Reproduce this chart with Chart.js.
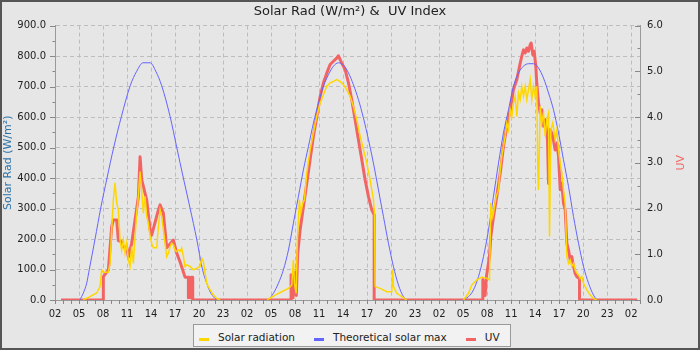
<!DOCTYPE html>
<html>
<head>
<meta charset="utf-8">
<script src="https://cdn.jsdelivr.net/npm/chart.js@4.4.0/dist/chart.umd.min.js"></script>
<style>
  body { margin:0; background:#e6e6e6; }
  #wrap { position:relative; width:700px; height:350px; background:#e6e6e6; }
  #frame { position:absolute; left:0; top:0; width:700px; height:350px; box-sizing:border-box; border:2px solid #555; pointer-events:none; }
  #legend { position:absolute; left:193px; top:324px; height:23px; box-sizing:border-box; border:1px solid #9a9a9a; background:#f2f2f2;
            display:flex; align-items:center; padding:3px 10px 0 5px; font:10.5px "DejaVu Sans"; color:#222; white-space:nowrap; }
  .item { display:flex; align-items:center; margin-right:19px; }
  .item:last-child { margin-right:0; }
  .mark { width:10px; height:3px; margin-right:9px; position:relative; top:2px; }
</style>
</head>
<body>
<div id="wrap">
  <canvas id="solarChart" width="700" height="350"></canvas>
  <div id="legend"></div>
  <div id="frame"></div>
</div>
<script>
// hours counted from 00:00 of the first day
const xTickLabels = ['02','05','08','11','14','17','20','23','02','05','08','11','14','17','20','23','02','05','08','11','14','17','20','23','02'];
const yTickLabels = ['0.0','100.0','200.0','300.0','400.0','500.0','600.0','700.0','800.0','900.0'];
const uvTickLabels = ['0.0','1.0','2.0','3.0','4.0','5.0','6.0'];

const solarHours = [
  5.5,6.38,7.21,7.63,7.83,8.04,8.67,8.88,9.08,9.29,9.5,9.71,9.92,10.13,10.33,10.54,10.75,10.96,11.17,11.38,
  11.58,11.79,12.0,12.21,12.42,12.63,12.83,13.04,13.25,13.46,13.67,13.88,14.08,14.29,14.71,14.92,15.13,15.33,15.54,15.75,
  15.96,16.17,16.38,16.58,16.79,17.0,17.2,17.42,17.63,17.83,18.04,18.25,18.46,18.88,19.29,19.71,20.13,20.33,20.54,20.75,
  20.96,21.38,21.79,22.21,22.63,
  25,
  28.5,29.5,30.33,31.17,31.58,31.79,31.92,32.13,32.29,32.54,32.71,32.96,33.17,33.46,33.88,34.29,34.71,35.13,35.54,35.96,
  36.38,36.79,37.2,37.63,38.04,38.46,38.88,39.29,39.71,40.13,40.54,40.96,41.38,41.79,41.92,42.0,42.63,43.46,44.08,44.2,
  44.29,44.71,45.33,45.96,
  49,
  53.04,53.67,54.08,54.71,55.33,55.96,56.29,56.46,56.71,56.92,57.13,57.42,57.63,57.83,58.04,58.25,58.46,58.67,58.88,59.08,
  59.29,59.5,59.71,59.92,60.13,60.33,60.54,60.75,60.96,61.17,61.38,61.58,61.79,62.0,62.2,62.33,62.42,62.63,62.83,63.04,
  63.25,63.46,63.67,63.79,63.96,64.2,64.5,64.71,64.92,65.13,65.33,65.54,65.75,65.96,66.17,66.38,66.58,66.79,67.0,67.2,
  67.42,67.63,67.83,68.04,68.46,68.88,69.29,69.7
];
const solarWm2 = [
  0,11,23,44,99,90,92,120,230,329,384,318,296,197,164,197,154,187,131,110,
  175,120,208,285,340,421,361,285,340,274,252,208,186,171,171,241,296,274,230,187,
  142,153,175,187,181,164,159,164,159,170,142,110,115,110,99,104,110,137,126,88,
  55,33,16,5,0,
  null,
  0,16,27,38,49,131,55,22,197,329,285,318,329,416,493,548,602,646,673,701,
  712,717,723,717,706,690,668,635,591,537,493,449,394,329,285,44,38,27,27,99,
  44,22,11,0,
  null,
  0,22,49,66,75,71,66,318,274,307,340,361,427,471,504,537,580,558,624,602,
  646,668,602,679,657,701,668,701,657,690,723,657,701,668,701,427,361,635,580,613,
  537,591,613,208,558,580,526,558,493,449,416,361,318,142,120,131,110,120,99,88,
  82,71,77,55,33,16,5,0
];

const maxHours = [
  5.1,5.54,5.96,6.29,7.0,7.71,8.5,9.35,10.3,11.4,12.2,13.0,13.9,14.6,15.33,16.38,17.2,18.04,18.88,19.71,20.42,20.96,21.38,21.79,22.2,
  25,
  28.67,29.29,29.92,30.54,31.17,31.79,32.42,33.04,33.67,34.29,34.92,35.54,36.17,36.79,37.42,38.04,38.67,39.29,39.92,40.54,
  41.17,41.79,42.42,43.04,43.67,44.29,44.92,45.54,45.96,
  49,
  52.9,53.67,54.29,54.92,55.54,56.17,56.79,57.42,58.04,58.67,59.29,59.92,60.54,61.17,61.79,62.42,63.04,63.67,64.29,64.92,
  65.54,66.17,66.79,67.42,68.04,68.67,69.29,69.7
];
const maxWm2 = [
  0,23,55,101,199,301,400,502,602,703,750,778,778,750,703,602,502,400,301,199,101,55,27,11,0,
  null,
  0,22,55,99,164,252,340,427,504,580,646,701,739,767,778,770,745,706,657,597,
  526,449,361,274,186,110,49,11,0,
  null,
  0,11,33,77,142,230,340,449,548,624,701,745,767,775,775,761,728,679,624,548,
  460,372,274,186,110,55,16,0
];

const uvHours = [
  2.75,8.04,8.04,8.67,9.08,9.29,9.71,9.92,10.33,10.54,10.96,11.17,11.58,12.21,12.42,12.63,12.83,13.46,13.88,14.08,14.92,
  15.13,15.54,15.75,15.96,16.79,17.2,17.63,18.25,18.67,18.67,18.8,18.94,19.08,19.21,19.21,
  31.5,31.5,31.75,31.95,32.15,32.33,32.63,33.04,33.46,33.88,34.29,34.71,35.13,35.54,35.96,36.38,36.79,37.2,37.42,37.83,38.25,
  38.67,39.08,39.5,39.92,40.33,40.75,41.17,41.58,41.88,41.88,
  55.46,55.46,55.75,55.9,56.04,56.29,56.46,56.79,57.2,57.63,58.04,58.46,58.88,59.29,59.71,60.13,60.33,60.54,60.75,60.96,61.17,
  61.38,61.5,61.71,61.88,62.08,62.2,62.42,62.63,62.83,63.04,63.25,63.54,63.67,63.88,64.08,64.29,64.5,64.71,64.92,65.13,
  65.33,65.54,65.75,65.96,66.17,66.38,66.58,66.79,67.0,67.2,67.54,67.54,74.75
];
const uvIndex = [
  0,0,0.51,0.66,1.6,1.75,1.75,1.3,1.27,1.16,1.16,0.94,1.24,2.0,2.26,3.13,2.63,2.19,1.53,1.42,1.97,
  2.08,1.9,1.53,1.14,1.31,1.03,0.83,0.5,0.5,0.05,0.5,0.05,0.5,0.5,0,
  0,0.55,0.05,0.6,0.1,1.02,1.53,2.04,2.55,3.07,3.58,4.0,4.45,4.75,4.96,5.15,5.22,5.29,5.34,5.18,5.04,
  4.75,4.38,3.94,3.5,3.07,2.63,2.26,1.97,1.86,0,
  0,0.45,0.1,0.5,0.66,0.95,1.39,1.82,2.26,2.77,3.36,3.8,4.16,4.6,4.82,5.18,5.33,5.47,5.4,5.51,5.44,
  5.58,5.62,5.36,5.44,5.11,4.74,4.31,4.09,4.16,3.8,3.94,3.5,2.55,3.72,3.65,3.5,3.28,3.43,3.14,2.41,
  2.55,2.12,1.97,1.24,1.09,0.88,0.95,0.73,0.58,0.51,0.47,0,0
];

function pts(hours, vals){ return hours.map((h,i)=>({x:h, y:vals[i]})); }

Chart.defaults.font.family = '"DejaVu Sans"';
Chart.defaults.color = '#222';

// small tick marks: long at labelled values, short between; right axis ticks point inwards
const tickMarks = {
  id:'tickMarks',
  afterDraw(chart){
    const ctx = chart.ctx;
    const {x, y, y2} = chart.scales;
    ctx.save();
    ctx.strokeStyle = '#888';
    ctx.lineWidth = 1;
    ctx.beginPath();
    x.ticks.forEach(t=>{
      const px = Math.round(x.getPixelForValue(t.value)) + 0.5;
      ctx.moveTo(px, x.top); ctx.lineTo(px, x.top + 4);
    });
    y.ticks.forEach(t=>{
      const py = Math.round(y.getPixelForValue(t.value)) + 0.5;
      const len = t.label ? 5 : 2.5;
      ctx.moveTo(y.right - len, py); ctx.lineTo(y.right, py);
    });
    y2.ticks.forEach(t=>{
      const py = Math.round(y2.getPixelForValue(t.value)) + 0.5;
      const len = t.label ? 5 : 2.5;
      ctx.moveTo(y2.left - len, py); ctx.lineTo(y2.left, py);
    });
    ctx.stroke();

    // right axis title, reading bottom to top like the left one
    ctx.translate(y2.left + 41, (chart.chartArea.top + chart.chartArea.bottom) / 2);
    ctx.rotate(-Math.PI / 2);
    ctx.font = '11px "DejaVu Sans"';
    ctx.fillStyle = '#f26464';
    ctx.textAlign = 'center';
    ctx.textBaseline = 'middle';
    ctx.fillText('UV', 0, 0);
    ctx.restore();
  }
};

const ctx = document.getElementById('solarChart').getContext('2d');
const chart = new Chart(ctx,{
  type:'line',
  data:{
    datasets:[
      {label:'Solar radiation', data:pts(solarHours, solarWm2), yAxisID:'y',
       borderColor:'#ffd700', backgroundColor:'#ffd700', borderWidth:1.5, pointRadius:0, spanGaps:false},
      {label:'Theoretical solar max', data:pts(maxHours, maxWm2), yAxisID:'y',
       borderColor:'#6464ff', backgroundColor:'#6464ff', borderWidth:1, pointRadius:0, spanGaps:false,
       cubicInterpolationMode:'monotone'},
      {label:'UV', data:pts(uvHours, uvIndex), yAxisID:'y2',
       borderColor:'#f26464', backgroundColor:'#f26464', borderWidth:3, pointRadius:0, borderJoinStyle:'round'}
    ]
  },
  options:{
    responsive:false,
    animation:false,
    devicePixelRatio:1,
    layout:{padding:0},
    plugins:{
      legend:{display:false},
      tooltip:{enabled:false},
      title:{display:true, text:'Solar Rad (W/m²) &  UV Index', color:'#222',
             font:{size:13, weight:'normal'}, padding:{top:4, bottom:6}}
    },
    scales:{
      x:{
        type:'linear', min:2, max:75.1,
        afterFit:s=>{ s.height = 50; },
        ticks:{stepSize:1, autoSkip:false, maxRotation:0, padding:8, font:{size:10}, color:'#222',
               callback:v=>((v - 2) % 3 === 0 ? xTickLabels[(v - 2) / 3] : '')},
        grid:{drawTicks:false, lineWidth:1,
              color:c=>(c.tick && (c.tick.value - 2) % 3 === 0) ? '#bdbdbd' : 'rgba(0,0,0,0)'},
        border:{color:'#9a9a9a', dash:[4,3]}
      },
      y:{
        position:'left', min:0, max:900,
        afterFit:s=>{ s.width = 55; },
        ticks:{stepSize:50, padding:9, font:{size:10}, color:'#222',
               callback:v=>(v % 100 === 0 ? yTickLabels[v / 100] : '')},
        grid:{drawTicks:false,
              color:c=>(c.tick && c.tick.value % 100 === 0) ? '#bdbdbd' : 'rgba(0,0,0,0)'},
        border:{color:'#9a9a9a', dash:[4,3]},
        title:{display:true, text:'Solar Rad (W/m²)', color:'#2b73a8', font:{size:11}, padding:{top:2, bottom:0}}
      },
      y2:{
        position:'right', min:0, max:6,
        afterFit:s=>{ s.width = 60; },
        ticks:{stepSize:0.5, padding:7, font:{size:10}, color:'#222',
               callback:v=>(Number.isInteger(v) ? uvTickLabels[v] : '')},
        grid:{drawOnChartArea:false, drawTicks:false},
        border:{color:'#9a9a9a'}
      }
    }
  },
  plugins:[tickMarks]
});

const legend = document.getElementById('legend');
chart.data.datasets.forEach(ds=>{
  const item = document.createElement('div');
  item.className = 'item';
  const mark = document.createElement('span');
  mark.className = 'mark';
  mark.style.background = ds.borderColor;
  const txt = document.createElement('span');
  txt.textContent = ds.label;
  item.appendChild(mark);
  item.appendChild(txt);
  legend.appendChild(item);
});
</script>
</body>
</html>
